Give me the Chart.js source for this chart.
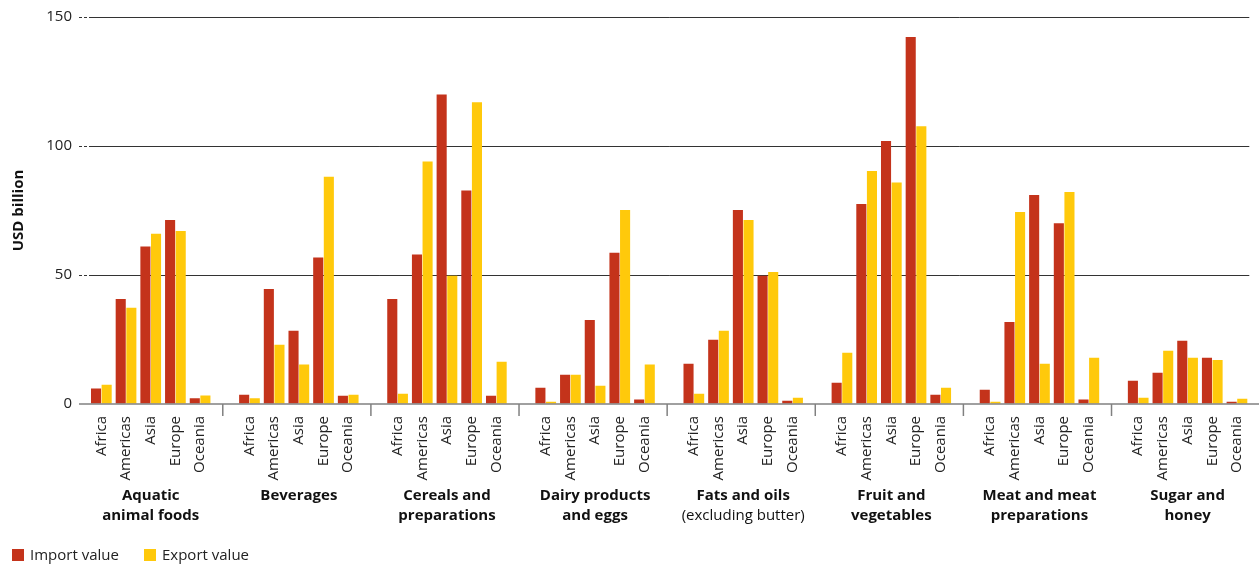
<!DOCTYPE html>
<html>
<head>
<meta charset="utf-8">
<script src="https://cdn.jsdelivr.net/npm/chart.js@4.4.0/dist/chart.umd.min.js"></script>
<style>
  html, body { margin: 0; padding: 0; background: #fff; }
  #wrap { width: 1259px; height: 565px; position: relative; }
</style>
</head>
<body>
<div id="wrap"><canvas id="grafico"></canvas></div>
<script>
// dados (USD bilhões)
const regions = ['Africa', 'Americas', 'Asia', 'Europe', 'Oceania'];
const groups = [
    ['Aquatic', 'animal foods'],
    ['Beverages'],
    ['Cereals and', 'preparations'],
    ['Dairy products', 'and eggs'],
    ['Fats and oils', '(excluding butter)'],
    ['Fruit and', 'vegetables'],
    ['Meat and meat', 'preparations'],
    ['Sugar and', 'honey']
];
const importValue = [
    6.0, 40.7, 61.0, 71.3, 2.2,
    3.6, 44.6, 28.4, 56.8, 3.2,
    40.7, 57.9, 120.0, 82.8, 3.2,
    6.3, 11.3, 32.6, 58.6, 1.7,
    15.6, 24.9, 75.2, 49.7, 1.3,
    8.2, 77.5, 101.9, 142.2, 3.6,
    5.5, 31.8, 81.0, 70.1, 1.7,
    9.0, 12.1, 24.5, 17.9, 0.9
];
const exportValue = [
    7.5, 37.3, 66.0, 67.1, 3.3,
    2.2, 23.0, 15.3, 88.1, 3.6,
    4.0, 94.0, 49.7, 117.0, 16.4,
    0.9, 11.3, 7.1, 75.2, 15.3,
    4.0, 28.4, 71.3, 51.2, 2.4,
    19.9, 90.3, 85.9, 107.7, 6.3,
    0.9, 74.4, 15.6, 82.2, 17.9,
    2.4, 20.6, 17.9, 17.1, 2.0
];
const yTicks = [0, 50, 100, 150];
const seriesNames = ['Import value', 'Export value'];
const corImport = '#c4331b';
const corExport = '#ffc90b';
const fonte = "'Open Sans', sans-serif";

// monta as categorias: 5 regiões + um espaço vazio entre grupos
var labels = [], dadosImport = [], dadosExport = [];
groups.forEach(function(g, gi) {
    regions.forEach(function(r, ri) {
        labels.push(r);
        dadosImport.push(importValue[gi * 5 + ri]);
        dadosExport.push(exportValue[gi * 5 + ri]);
    });
    if (gi < groups.length - 1) {
        labels.push('');
        dadosImport.push(null);
        dadosExport.push(null);
    }
});

// desenha linha base, separadores, nomes dos grupos e legenda
const extras = {
    id: 'extras',
    afterDatasetsDraw(chart) {
        const ctx = chart.ctx;
        const x = chart.scales.x, y = chart.scales.y;
        const y0 = y.getPixelForValue(0);
        ctx.save();
        ctx.strokeStyle = '#808080';
        ctx.lineWidth = 1.5;
        ctx.beginPath();
        ctx.moveTo(79, y0);
        ctx.lineTo(chart.width, y0);
        ctx.stroke();
        for (var gi = 0; gi < groups.length - 1; gi++) {
            var sx = (x.getPixelForValue(gi * 6 + 4) + x.getPixelForValue(gi * 6 + 6)) / 2 - 2;
            ctx.beginPath();
            ctx.moveTo(sx, y0);
            ctx.lineTo(sx, y0 + 12);
            ctx.stroke();
        }
        ctx.fillStyle = '#111';
        ctx.textAlign = 'center';
        ctx.textBaseline = 'middle';
        groups.forEach(function(g, gi) {
            var cx = (x.getPixelForValue(gi * 6) + x.getPixelForValue(gi * 6 + 4)) / 2;
            g.forEach(function(linha, li) {
                var normal = linha.charAt(0) === '(';
                ctx.font = (normal ? '' : 'bold ') + '15px ' + fonte;
                ctx.fillText(linha, cx, 496 + li * 20);
            });
        });
        // legenda
        ctx.textAlign = 'left';
        ctx.font = '15px ' + fonte;
        var lx = [12, 144];
        [corImport, corExport].forEach(function(c, i) {
            ctx.fillStyle = c;
            ctx.fillRect(lx[i], 549, 12, 12);
            ctx.fillStyle = '#222';
            ctx.fillText(seriesNames[i], lx[i] + 18, 556);
        });
        ctx.restore();
    }
};

var ctx = document.getElementById('grafico').getContext('2d');
window.graficoBarras = new Chart(ctx, {
    type: 'bar',
    data: {
        labels: labels,
        datasets: [
            { label: seriesNames[0], data: dadosImport, backgroundColor: corImport },
            { label: seriesNames[1], data: dadosExport, backgroundColor: corExport }
        ]
    },
    options: {
        responsive: true,
        maintainAspectRatio: false,
        animation: false,
        datasets: { bar: { categoryPercentage: 0.86, barPercentage: 0.95 } },
        layout: { padding: { top: 17, right: 4, bottom: 0, left: 0 } },
        plugins: {
            legend: { display: false },
            tooltip: { enabled: false }
        },
        scales: {
            x: {
                grid: { display: false },
                border: { display: false },
                afterFit: function(s) { s.height = 161; },
                ticks: {
                    autoSkip: false,
                    minRotation: 90,
                    maxRotation: 90,
                    padding: 4,
                    color: '#222',
                    font: { family: fonte, size: 15 }
                }
            },
            y: {
                min: 0,
                max: 150,
                afterFit: function(s) { s.width = 89; },
                afterBuildTicks: function(s) { s.ticks = yTicks.map(v => ({ value: v })); },
                border: { display: false },
                grid: {
                    color: c => c.tick && c.tick.value === 0 ? 'rgba(0,0,0,0)' : '#333',
                    tickColor: c => c.tick && c.tick.value === 0 ? 'rgba(0,0,0,0)' : '#333',
                    borderDash: [3, 2],
                    tickBorderDash: [3, 2],
                    tickLength: 10,
                    lineWidth: 1
                },
                ticks: {
                    padding: 7,
                    color: '#222',
                    font: { family: fonte, size: 15 }
                },
                title: {
                    display: true,
                    text: 'USD billion',
                    color: '#111',
                    padding: { top: 10, bottom: 0 },
                    font: { family: fonte, size: 15, weight: 'bold' }
                }
            }
        }
    },
    plugins: [extras]
});
</script>
</body>
</html>
